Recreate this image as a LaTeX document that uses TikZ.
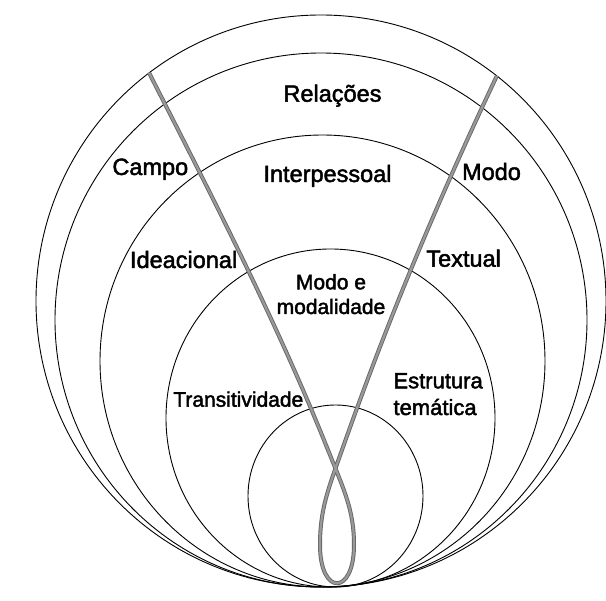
\documentclass[tikz,border=0pt]{standalone}
\usepackage{fontspec}
\setmainfont{Liberation Sans}
\newfontfamily\labfont[FakeBold=2]{Liberation Sans}
\usetikzlibrary{shapes.geometric}
\begin{document}
\begin{tikzpicture}[x=1pt,y=-1pt,
  ring/.style={draw=black, line width=0.9pt, ellipse, inner sep=0pt, outer sep=0pt},
  rope/.style={draw=black!60, double=black!40, line width=0.9pt, double distance=2.2pt},
  outerlab/.style={font=\labfont\fontsize{23.5}{27}\selectfont, inner sep=0pt, anchor=base},
  innerlab/.style={font=\labfont\fontsize{21}{24.7}\selectfont, inner sep=0pt, anchor=base},
  estrlab/.style={font=\labfont\fontsize{22}{26.7}\selectfont, inner sep=0pt, anchor=base west}]
\useasboundingbox[fill=white] (0,0) rectangle (606,601);
% nested circles, all touching at the bottom
\node[ring, minimum width=570pt, minimum height=572pt] (c1) at (321,301) {};
\node[ring, minimum width=532pt, minimum height=534pt] (c2) at (321,320) {};
\node[ring, minimum width=445pt, minimum height=452pt] (c3) at (322.5,361) {};
\node[ring, minimum width=329pt, minimum height=338pt] (c4) at (330.5,418) {};
\node[ring, minimum width=175pt, minimum height=182pt] (c5) at (335.5,496) {};
% the looped band
\coordinate (xl) at (328,450);
\coordinate (lr) at (354,545);
\coordinate (ll) at (320,545);
\coordinate (xr) at (342,450);
\draw[rope] (c1.127) .. controls (212.4,197.3) and (276,320) .. (xl)
  .. controls (344,490) and (354,510) .. (lr)
  .. controls (354,596) and (320,596) .. (ll)
  .. controls (320,510) and (327.8,490) .. (xr)
  .. controls (370.3,370) and (415,249) .. (c1.52);
% labels
\node[outerlab] (rel) at (332.5,101.7) {Relações};
\node[outerlab] (campo) at (150.3,175) {Campo};
\node[outerlab] (inter) at (327.5,182) {Interpessoal};
\node[outerlab] (modo) at (491.5,180) {Modo};
\node[outerlab] (idea) at (183.6,268) {Ideacional};
\node[outerlab] (textual) at (463.6,266.7) {Textual};
\node[innerlab] (mm) at (331,289.3) {\begin{tabular}[t]{@{}c@{}}Modo e\\modalidade\end{tabular}};
\node[innerlab] (trans) at (238.3,406.7) {Transitividade};
\node[estrlab] (estr) at (393.3,388.3) {\begin{tabular}[t]{@{}l@{}}Estrutura\\temática\end{tabular}};
\end{tikzpicture}
\end{document}
